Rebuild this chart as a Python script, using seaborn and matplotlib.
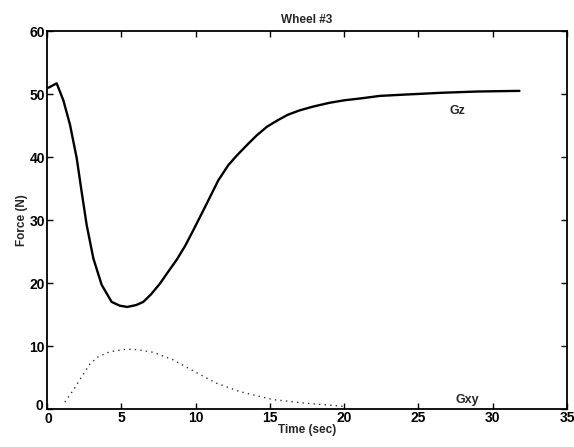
import numpy as np
import pandas as pd
import matplotlib
matplotlib.use("Agg")
import matplotlib.pyplot as plt
import matplotlib.transforms as mtransforms
import seaborn as sns

# Gz (solid) curve
gz_time = [0.1, 0.65, 1.1, 1.55, 2.0, 2.33, 2.67, 3.12, 3.68, 4.35, 4.9, 5.4, 6.0, 6.48,
           7.0, 7.6, 8.1, 8.73, 9.3, 9.85, 10.3, 10.75, 11.53, 12.2, 12.76, 13.5, 14.1,
           14.8, 15.5, 16.2, 17.0, 17.9, 19.0, 20.0, 21.1, 22.4, 24.0, 26.6, 29.0, 31.8]
gz_force = [51.0, 51.7, 49.0, 45.1, 39.8, 34.5, 29.2, 23.9, 19.7, 17.0, 16.4, 16.2, 16.5,
            17.0, 18.2, 19.9, 21.6, 23.7, 25.9, 28.4, 30.5, 32.6, 36.3, 38.7, 40.2, 42.0,
            43.4, 44.8, 45.8, 46.7, 47.4, 48.0, 48.6, 49.0, 49.3, 49.7, 49.9, 50.2, 50.4,
            50.5]

# Gxy (dotted) curve
gxy_time = [1.2, 1.77, 2.33, 2.9, 3.45, 4.24, 5.36, 6.14, 7.15, 8.5, 9.96, 11.4,
            13.0, 15.2, 17.5, 19.6, 20.1]
gxy_force = [1.1, 3.0, 5.1, 7.2, 8.3, 9.1, 9.5, 9.4, 9.0, 7.8, 5.9, 4.1, 2.75, 1.5,
             0.9, 0.5, 0.35]

x_ticks = [0, 5, 10, 15, 20, 25, 30, 35]
y_ticks = [0, 10, 20, 30, 40, 50, 60]

sns.set_theme(style="white")
plt.rcParams['font.family'] = ['Liberation Sans', 'DejaVu Sans']

fig = plt.figure(figsize=(5.74, 4.47), dpi=100)
ax = fig.add_axes([0.0819, 0.085, 0.9059, 0.8456])

df_gz = pd.DataFrame({"t": gz_time, "f": gz_force})
df_gxy = pd.DataFrame({"t": gxy_time, "f": gxy_force})

sns.lineplot(data=df_gz, x="t", y="f", ax=ax, color="black", linewidth=1.7)
sns.lineplot(data=df_gxy, x="t", y="f", ax=ax, color="#333333", linewidth=1.0,
             linestyle=(0, (1, 3)))

ax.set_xlim(0, 35)
ax.set_ylim(0, 60)
ax.set_xticks(x_ticks)
ax.set_yticks(y_ticks)
ax.set_xticklabels([str(v) for v in x_ticks], fontsize=10, fontweight='bold')
ax.set_yticklabels([str(v) for v in y_ticks], fontsize=10, fontweight='bold')
ax.tick_params(direction='in', length=4, width=1, top=True, right=True,
               bottom=True, left=True, pad=1.5, colors='black')

# nudge the y-axis "0" up a little so it does not collide with the x-axis "0"
ylab0 = ax.get_yticklabels()[0]
ylab0.set_transform(ylab0.get_transform() +
                    mtransforms.ScaledTranslation(-1 / 72, 3 / 72, fig.dpi_scale_trans))
xlab0 = ax.get_xticklabels()[0]
xlab0.set_transform(xlab0.get_transform() +
                    mtransforms.ScaledTranslation(1 / 72, -1 / 72, fig.dpi_scale_trans))

for s in ax.spines.values():
    s.set_visible(True)
    s.set_color('black')
    s.set_linewidth(1.3)

ax.set_xlabel("Time (sec)", fontsize=8.5, fontweight='bold', labelpad=-2)
ax.set_ylabel("Force (N)", fontsize=8.5, fontweight='bold', labelpad=1)
ax.set_title("Wheel #3", fontsize=8.5, fontweight='bold', pad=6)

ax.text(27.6, 47.3, "Gz", fontsize=9, fontweight='bold', ha='center', va='center')
ax.text(28.3, 1.4, "Gxy", fontsize=9, fontweight='bold', ha='center', va='center')

fig.savefig("out.png", dpi=100)
